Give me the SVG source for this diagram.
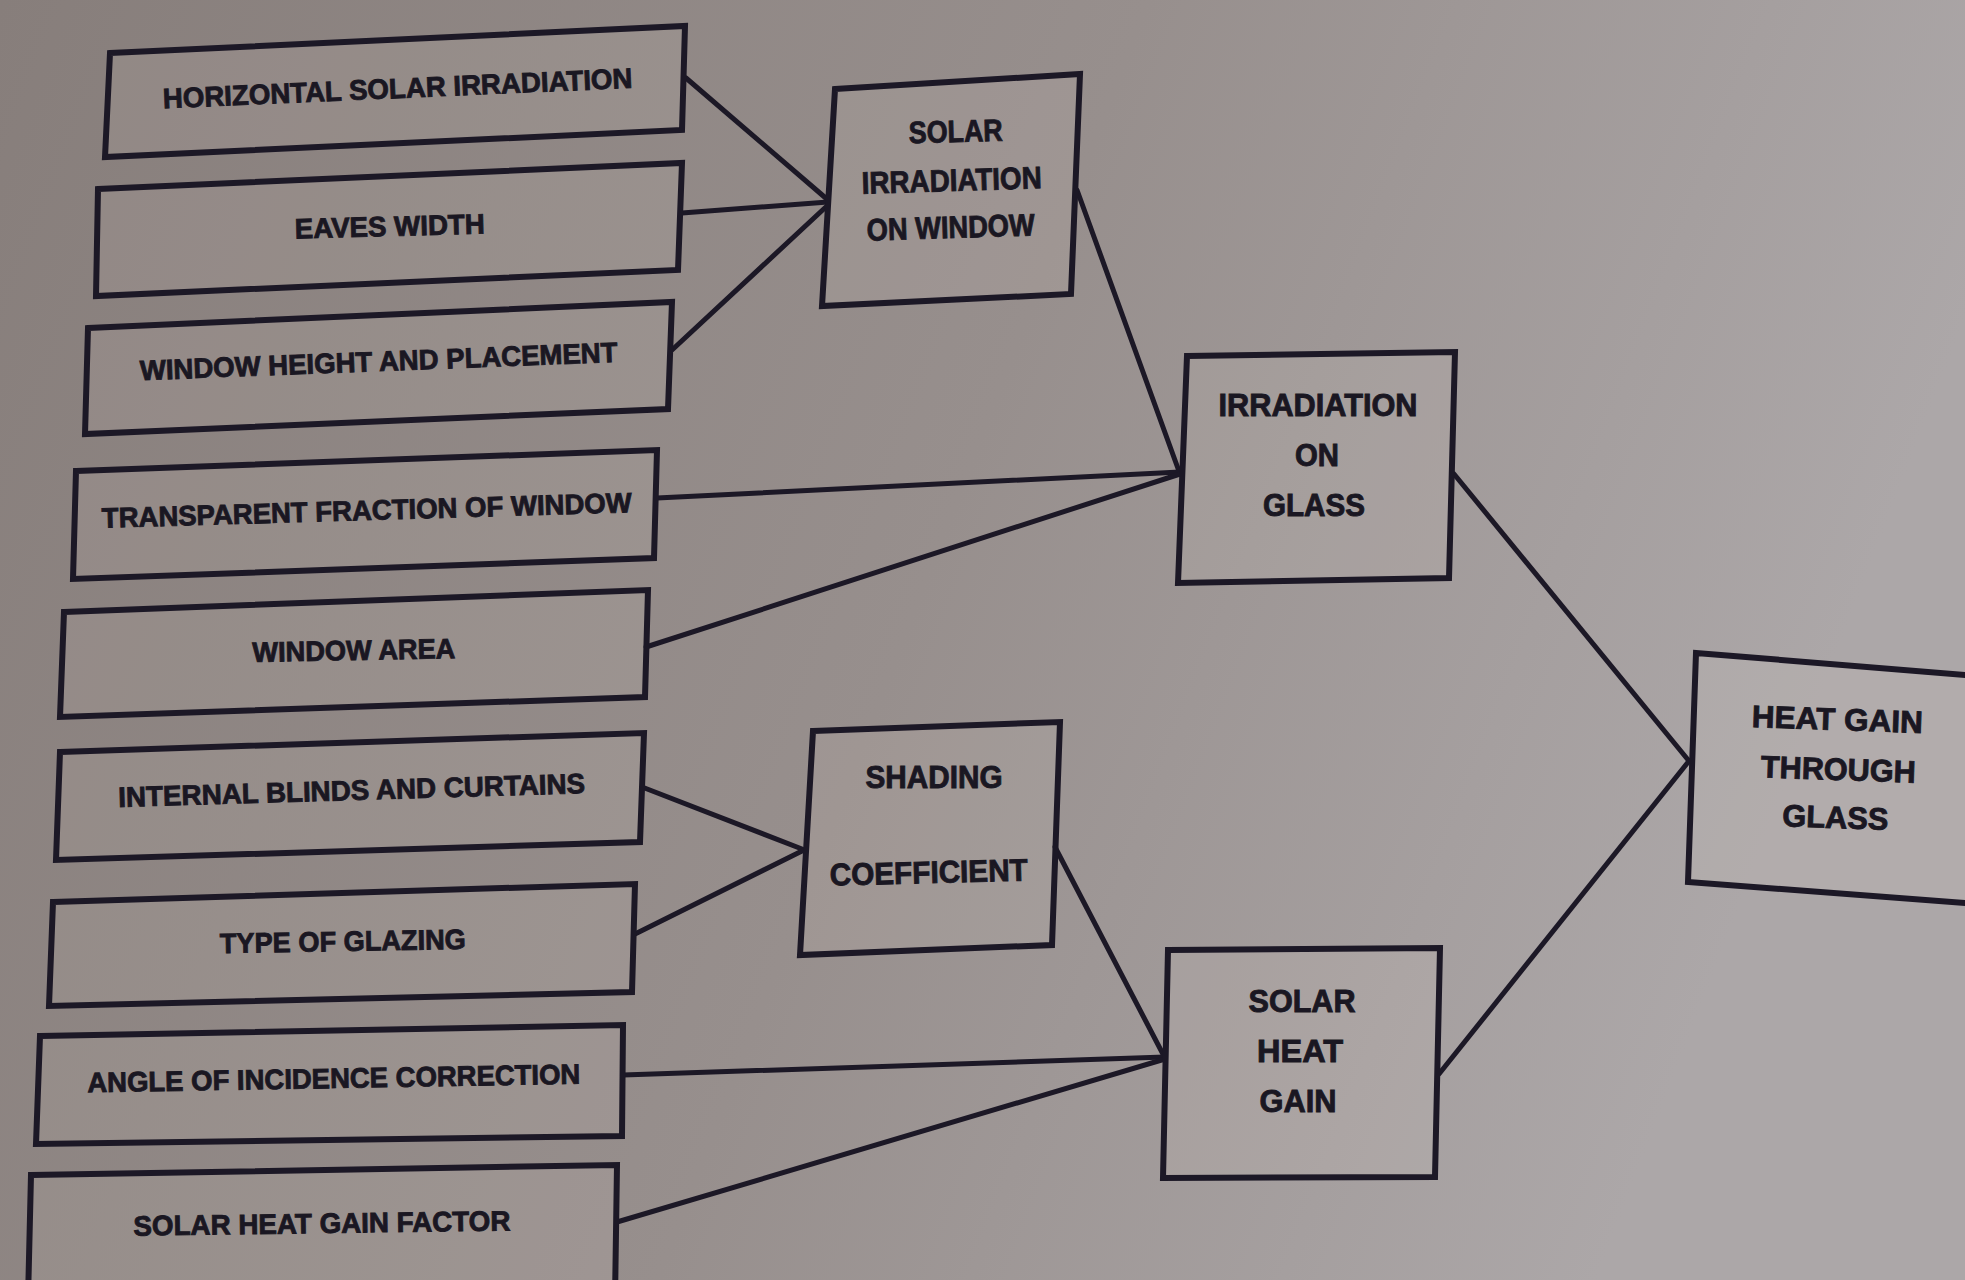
<svg xmlns="http://www.w3.org/2000/svg" width="1965" height="1280" viewBox="0 0 1965 1280">
  <defs>
    <linearGradient id="paper" x1="0" y1="0" x2="1" y2="0.25">
      <stop offset="0" stop-color="#877e7b"/>
      <stop offset="0.55" stop-color="#978f8d"/>
      <stop offset="1" stop-color="#aca7a8"/>
    </linearGradient>
    <style>
      .box { fill: #fff6ea; fill-opacity: 0.08; stroke: #1c1826; stroke-width: 6; stroke-linejoin: miter; }
      .lbl { font-family: "Liberation Sans", Arial, sans-serif; font-weight: bold; font-size: 28px; fill: #1a1722; stroke: #1a1722; stroke-width: 0.9; text-anchor: middle; }
      .nd { font-size: 31px; }
      .wire { stroke: #1c1826; stroke-width: 5; fill: none; stroke-linecap: round; }
    </style>
  </defs>

  <rect x="0" y="0" width="1965" height="1280" fill="url(#paper)"/>

  <!-- connectors -->
  <g id="connectors">
    <line class="wire" x1="686" y1="78" x2="828" y2="200"/>
    <line class="wire" x1="682" y1="213" x2="828" y2="202"/>
    <line class="wire" x1="672" y1="350" x2="828" y2="205"/>
    <line class="wire" x1="1077" y1="190" x2="1180" y2="474"/>
    <line class="wire" x1="657" y1="498" x2="1180" y2="472"/>
    <line class="wire" x1="646" y1="647" x2="1180" y2="474"/>
    <line class="wire" x1="1454" y1="474" x2="1689" y2="761"/>
    <line class="wire" x1="1439" y1="1074" x2="1689" y2="761"/>
    <line class="wire" x1="642" y1="787" x2="802" y2="849"/>
    <line class="wire" x1="635" y1="934" x2="802" y2="851"/>
    <line class="wire" x1="1055" y1="847" x2="1165" y2="1058"/>
    <line class="wire" x1="623" y1="1075" x2="1165" y2="1057"/>
    <line class="wire" x1="617" y1="1222" x2="1165" y2="1059"/>
  </g>

  <!-- input factors -->
  <g id="horizontal-solar-irradiation">
    <polygon class="box" points="110,53 685,26 682,130 105,157"/>
    <text class="lbl" transform="translate(398,98) rotate(-2.5)" textLength="470" lengthAdjust="spacingAndGlyphs">HORIZONTAL SOLAR IRRADIATION</text>
  </g>
  <g id="eaves-width">
    <polygon class="box" points="98,189 682,163 678,270 96,296"/>
    <text class="lbl" transform="translate(390,236) rotate(-1.5)" textLength="190" lengthAdjust="spacingAndGlyphs">EAVES WIDTH</text>
  </g>
  <g id="window-height">
    <polygon class="box" points="88,328 672,302 668,409 85,434"/>
    <text class="lbl" transform="translate(379,371) rotate(-2.2)" textLength="478" lengthAdjust="spacingAndGlyphs">WINDOW HEIGHT AND PLACEMENT</text>
  </g>
  <g id="transparent-fraction">
    <polygon class="box" points="76,471 657,450 654,558 73,579"/>
    <text class="lbl" transform="translate(367,520) rotate(-1.7)" textLength="530" lengthAdjust="spacingAndGlyphs">TRANSPARENT FRACTION OF WINDOW</text>
  </g>
  <g id="window-area">
    <polygon class="box" points="64,612 648,590 645,697 60,717"/>
    <text class="lbl" transform="translate(354,660) rotate(-1.1)" textLength="203" lengthAdjust="spacingAndGlyphs">WINDOW AREA</text>
  </g>
  <g id="internal-blinds">
    <polygon class="box" points="60,752 644,733 640,842 56,860"/>
    <text class="lbl" transform="translate(352,800) rotate(-1.7)" textLength="467" lengthAdjust="spacingAndGlyphs">INTERNAL BLINDS AND CURTAINS</text>
  </g>
  <g id="type-of-glazing">
    <polygon class="box" points="53,902 635,884 632,992 49,1006"/>
    <text class="lbl" transform="translate(343,951) rotate(-1)" textLength="246" lengthAdjust="spacingAndGlyphs">TYPE OF GLAZING</text>
  </g>
  <g id="angle-of-incidence">
    <polygon class="box" points="40,1036 623,1025 622,1136 36,1144"/>
    <text class="lbl" transform="translate(334,1088) rotate(-1)" textLength="493" lengthAdjust="spacingAndGlyphs">ANGLE OF INCIDENCE CORRECTION</text>
  </g>
  <g id="solar-heat-gain-factor">
    <polygon class="box" points="31,1175 617,1165 615,1300 28,1300"/>
    <text class="lbl" transform="translate(322,1233) rotate(-0.8)" textLength="377" lengthAdjust="spacingAndGlyphs">SOLAR HEAT GAIN FACTOR</text>
  </g>

  <!-- intermediate results -->
  <g id="solar-irradiation-on-window">
    <polygon class="box" points="835,89 1080,74 1071,294 822,306"/>
    <text class="lbl nd" transform="translate(956,142) rotate(-1.5)" textLength="94" lengthAdjust="spacingAndGlyphs">SOLAR</text>
    <text class="lbl nd" transform="translate(952,191) rotate(-1.8)" textLength="180" lengthAdjust="spacingAndGlyphs">IRRADIATION</text>
    <text class="lbl nd" transform="translate(951,238) rotate(-1.8)" textLength="168" lengthAdjust="spacingAndGlyphs">ON WINDOW</text>
  </g>
  <g id="irradiation-on-glass">
    <polygon class="box" points="1187,356 1455,352 1449,578 1178,583"/>
    <text class="lbl nd" transform="translate(1318,416)" textLength="199" lengthAdjust="spacingAndGlyphs">IRRADIATION</text>
    <text class="lbl nd" transform="translate(1317,466)" textLength="44" lengthAdjust="spacingAndGlyphs">ON</text>
    <text class="lbl nd" transform="translate(1314,516)" textLength="102" lengthAdjust="spacingAndGlyphs">GLASS</text>
  </g>
  <g id="shading-coefficient">
    <polygon class="box" points="813,731 1060,722 1052,945 800,955"/>
    <text class="lbl nd" transform="translate(934,788)" textLength="137" lengthAdjust="spacingAndGlyphs">SHADING</text>
    <text class="lbl nd" transform="translate(929,883) rotate(-1.5)" textLength="198" lengthAdjust="spacingAndGlyphs">COEFFICIENT</text>
  </g>
  <g id="solar-heat-gain">
    <polygon class="box" points="1168,950 1440,948 1435,1177 1163,1178"/>
    <text class="lbl nd" transform="translate(1302,1012)" textLength="107" lengthAdjust="spacingAndGlyphs">SOLAR</text>
    <text class="lbl nd" transform="translate(1300,1062)" textLength="86" lengthAdjust="spacingAndGlyphs">HEAT</text>
    <text class="lbl nd" transform="translate(1298,1112)" textLength="77" lengthAdjust="spacingAndGlyphs">GAIN</text>
  </g>

  <!-- final result -->
  <g id="heat-gain-through-glass">
    <polygon class="box" points="1696,653 1990,677 1990,905 1688,882"/>
    <text class="lbl nd" transform="translate(1837,730) rotate(2)" textLength="171" lengthAdjust="spacingAndGlyphs">HEAT GAIN</text>
    <text class="lbl nd" transform="translate(1838,780) rotate(2)" textLength="155" lengthAdjust="spacingAndGlyphs">THROUGH</text>
    <text class="lbl nd" transform="translate(1835,828) rotate(2)" textLength="106" lengthAdjust="spacingAndGlyphs">GLASS</text>
  </g>
</svg>
